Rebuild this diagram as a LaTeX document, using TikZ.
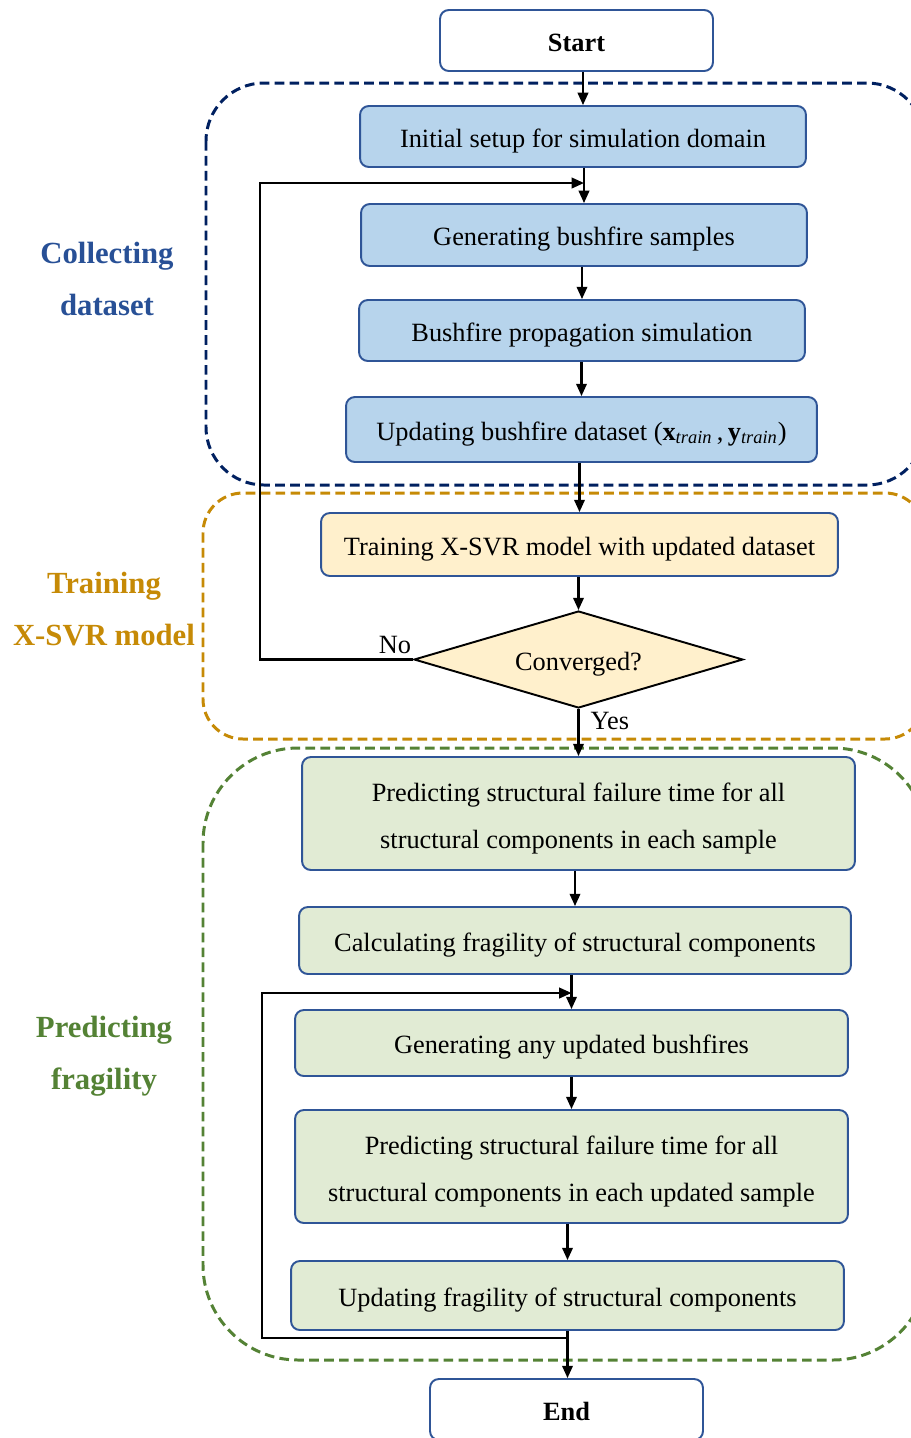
\documentclass[tikz,border=0pt]{standalone}
\usepackage{fontspec}
\setmainfont{Liberation Serif}
\usepackage{xcolor}
\usetikzlibrary{
    arrows.meta,
    shapes.geometric,
    calc
}
\definecolor{boxBlue}{RGB}{47,85,151}
\definecolor{fillBlue}{RGB}{183,212,236}
\definecolor{fillYellow}{RGB}{255,240,204}
\definecolor{fillGreen}{RGB}{225,235,212}
\definecolor{navyDash}{RGB}{0,32,96}
\definecolor{orangeDash}{RGB}{198,138,6}
\definecolor{greenDash}{RGB}{84,130,53}
\definecolor{labelBlue}{RGB}{40,80,150}
\tikzset{
  stepbox/.style = {draw=boxBlue, line width=1.1pt, rounded corners=5pt,
                    align=center, inner sep=0pt, text height=12pt, text depth=0pt,
                    font=\fontsize{15}{26.5}\selectfont},
  twoline/.style = {text height={}, text depth={}},
  termbox/.style = {stepbox, fill=white, minimum width=5.46cm,
                    minimum height=1.22cm, font=\fontsize{15}{18}\selectfont\bfseries},
  region/.style  = {line width=1.7pt, dash pattern=on 5.5pt off 3pt},
  side/.style    = {align=center, font=\fontsize{17.5}{29.6}\selectfont\bfseries},
  arr/.style     = {-{Triangle[length=7pt,width=6pt]}, line width=1.2pt, black}
}

\begin{document}
\begin{tikzpicture}[x=0.02cm, y=-0.02cm,
    decision/.style={diamond, draw=black, line width=1.1pt, fill=fillYellow,
                     aspect=3.4, inner sep=2pt, minimum width=6.58cm,
                     minimum height=1.94cm, text height=12pt, text depth=0pt,
                     font=\fontsize{15}{18}\selectfont}
]
\useasboundingbox (0,0) rectangle (911,1438);
\clip (0,0) rectangle (911,1438);

% --- DASHED GROUPS ---
\draw[region, draw=navyDash, rounded corners=1.16cm] (206,83) rectangle (925,485);
\draw[region, draw=orangeDash, rounded corners=0.8cm] (203,493) rectangle (925,739);
\draw[region, draw=greenDash, rounded corners=1.9cm] (203,748) rectangle (928,1360);

% --- GROUP LABELS ---
\node[side, text=labelBlue] (lblcollect) at (107,279) {Collecting\\dataset};
\node[side, text=orangeDash] (lbltrain) at (104,609) {Training\\X-SVR model};
\node[side, text=greenDash] (lblpredict) at (104,1056) {Predicting\\fragility};

% --- START / END ---
\node[termbox] (start) at (576.5,40.5) {Start};
\node[termbox] (end) at (566.5,1409.5) {End};

% --- COLLECTING DATASET ---
\node[stepbox, fill=fillBlue, minimum width=8.92cm, minimum height=1.22cm] (setup) at (583,136.5) {Initial setup for simulation domain};
\node[stepbox, fill=fillBlue, minimum width=8.92cm, minimum height=1.24cm] (gen) at (584,235) {Generating bushfire samples};
\node[stepbox, fill=fillBlue, minimum width=8.92cm, minimum height=1.22cm] (prop) at (582,330.5) {Bushfire propagation simulation};
\node[stepbox, fill=fillBlue, minimum width=9.42cm, minimum height=1.30cm] (upd) at (581.5,429.5)
    {Updating bushfire dataset (\textbf{x}\textsubscript{\textit{train}}\,,\,\textbf{y}\textsubscript{\textit{train}})};

% --- TRAINING ---
\node[stepbox, fill=fillYellow, minimum width=10.34cm, minimum height=1.26cm] (train) at (579.5,544.5) {Training X-SVR model with updated dataset};
\node[decision] (conv) at (578.5,659.5) {Converged?};

% --- PREDICTING FRAGILITY ---
\node[stepbox, twoline, fill=fillGreen, minimum width=11.06cm, minimum height=2.26cm] (pred1) at (578.5,813.5)
    {\rule{0pt}{16pt}Predicting structural failure time for all\\structural components in each sample};
\node[stepbox, fill=fillGreen, minimum width=11.04cm, minimum height=1.34cm] (calc) at (575,940.5) {Calculating fragility of structural components};
\node[stepbox, fill=fillGreen, minimum width=11.06cm, minimum height=1.32cm] (genupd) at (571.5,1043) {Generating any updated bushfires};
\node[stepbox, twoline, fill=fillGreen, minimum width=11.06cm, minimum height=2.26cm] (pred2) at (571.5,1166.5)
    {\rule{0pt}{16pt}Predicting structural failure time for all\\structural components in each updated sample};
\node[stepbox, fill=fillGreen, minimum width=11.06cm, minimum height=1.38cm] (updfrag) at (567.5,1295.5) {Updating fragility of structural components};

% --- MAIN FLOW ---
\draw[arr] (start.south -| setup) -- (setup.north);
\draw[arr] (setup.south -| gen) -- (gen.north);
\draw[arr] (gen.south -| prop) -- (prop.north);
\draw[arr] (prop.south -| upd) -- (upd.north);
\draw[arr] (upd.south -| train) -- (train.north);
\draw[arr] (train.south -| conv) -- (conv.north);
\draw[arr] (conv.south) -- node[right, pos=0.25, xshift=3pt, font=\fontsize{15}{18}\selectfont] (yes) {Yes} (conv.south |- pred1.north);
\draw[arr] (pred1.south -| calc) -- (calc.north);
\draw[arr] (calc.south -| genupd) -- (genupd.north);
\draw[arr] (genupd.south -| pred2) -- (pred2.north);
\draw[arr] (pred2.south -| updfrag) -- (updfrag.north);
\draw[arr] (updfrag.south) -- (updfrag.south |- end.north);

% --- LOOP: NOT CONVERGED ---
\coordinate (back1) at (260,183);
\draw[arr] (conv.west) -- (back1 |- conv.west) -- (back1) -- (back1 -| gen);
\node[font=\fontsize{15}{18}\selectfont] (no) at (395,645) {No};

% --- LOOP: UPDATED BUSHFIRES ---
\coordinate (join2) at (567.5,1338);
\coordinate (back2) at (262,993);
\draw[arr] (join2) -- (back2 |- join2) -- (back2) -- (back2 -| genupd);
\end{tikzpicture}
\end{document}
